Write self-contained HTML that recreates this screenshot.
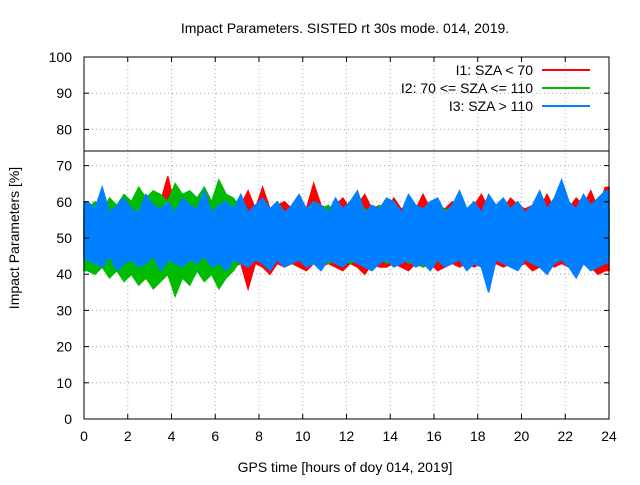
<!DOCTYPE html>
<html><head><meta charset="utf-8"><style>
body{margin:0;background:#fff}
svg text{font-family:"Liberation Sans",sans-serif;font-size:14px;fill:#000}
</style></head><body>
<svg id="c" width="640" height="480">
<text x="345" y="33" text-anchor="middle">Impact Parameters. SISTED rt 30s mode. 014, 2019.</text>
<text x="345" y="472" text-anchor="middle">GPS time [hours of doy 014, 2019]</text>
<text transform="translate(19,238) rotate(-90)" text-anchor="middle">Impact Parameters [%]</text>
<g id="grid"></g><g id="series"></g><g id="ticks"></g>
<rect x="84" y="57" width="525" height="362" fill="none" stroke="#000"/>
<line x1="84" x2="609" y1="151" y2="151" stroke="#000" stroke-width="1"/>
<g id="legend"></g>
</svg>
<script>
const xTicks=[0,2,4,6,8,10,12,14,16,18,20,22,24];
const yTicks=[0,10,20,30,40,50,60,70,80,90,100];
const threshold=74;
const seriesNames=["I1: SZA < 70","I2: 70 <= SZA <= 110","I3: SZA > 110"];
const redHi=[55,56,55,57,56,58,57,58,59,58,60,67,58,59,61,58,59,58,59,62,58,59,63,58,64,58,59,60,58,59,58,65,59,58,59,61,58,59,62,58,59,58,61,58,59,58,62,58,59,58,60,59,58,59,62,58,59,58,61,59,58,59,58,62,58,59,58,61,59,63,58,64];
const redLo=[45,44,45,44,43,44,43,44,42,43,42,43,42,39,43,42,43,42,40,43,42,43,36,43,42,40,43,42,43,42,41,43,42,43,42,41,43,42,40,43,42,42,43,42,41,43,42,43,41,42,43,42,43,42,43,40,43,42,43,42,43,41,42,43,42,43,42,41,43,42,40,41];
const greenHi=[58,60,57,61,59,62,60,64,61,63,62,60,65,62,63,61,64,60,66,62,61,58,57,59,56,58,60,57,58,59,57,56,58,59,57,58,56,60,58,57,59,58,56,57,59,58,57,60,56,58,57,59,58,56,57,58,59,57,56,58,57,59,58,57,56,58,59,57,58,56,57,58];
const greenLo=[41,40,42,39,41,38,40,37,39,36,38,40,34,39,37,41,38,40,36,39,41,44,43,45,44,42,44,45,43,44,42,45,44,43,44,45,43,44,42,44,45,43,44,45,43,44,42,45,44,43,44,45,43,44,42,44,45,43,44,43,45,44,42,44,43,45,44,43,44,42,44,45];
const blueHi=[60,58,64,57,59,61,58,57,62,59,58,60,57,61,59,58,63,57,59,60,58,62,57,59,61,58,60,57,59,62,58,60,59,57,61,58,60,63,57,59,58,61,60,57,62,59,58,60,61,57,59,63,58,60,57,62,59,61,58,60,57,59,63,58,61,66,60,58,62,59,61,63];
const blueLo=[44,43,42,45,41,43,44,42,43,45,41,44,43,42,44,43,45,42,43,41,44,43,42,44,43,41,44,42,43,44,42,43,41,44,43,42,44,43,42,41,43,44,42,43,44,42,43,41,44,42,43,44,41,43,42,35,44,43,42,41,44,43,42,40,43,44,42,39,43,41,42,43];
const colors=["#ff0000","#00bb00","#0080ff"];
const NS="http://www.w3.org/2000/svg";
const X=h=>84+h/24*525, Y=v=>419-v*3.62;
function mk(t,a,p){const e=document.createElementNS(NS,t);for(const k in a)e.setAttribute(k,a[k]);p.appendChild(e);return e;}
const grid=document.getElementById('grid'),ticks=document.getElementById('ticks');
xTicks.forEach(t=>{
 if(t>0&&t<24){const g=mk('line',{x1:X(t),x2:X(t),y1:57,y2:419,stroke:'#aaa','stroke-dasharray':'1,3'},grid);
 }
 const l=mk('text',{x:X(t),y:441,'text-anchor':'middle'},ticks);l.textContent=t;
 
 mk('line',{x1:X(t),x2:X(t),y1:419,y2:414,stroke:'#000'},ticks);mk('line',{x1:X(t),x2:X(t),y1:57,y2:62,stroke:'#000'},ticks);
});
yTicks.forEach(t=>{
 if(t>0&&t<100){const g=mk('line',{x1:84,x2:609,y1:Y(t),y2:Y(t),stroke:'#aaa','stroke-dasharray':'1,3'},grid);
 }
 const l=mk('text',{x:72,y:Y(t)+5,'text-anchor':'end'},ticks);l.textContent=t;
 
 mk('line',{x1:84,x2:89,y1:Y(t),y2:Y(t),stroke:'#000'},ticks);mk('line',{x1:609,x2:604,y1:Y(t),y2:Y(t),stroke:'#000'},ticks);
});
const ser=document.getElementById('series');
[[redHi,redLo],[greenHi,greenLo],[blueHi,blueLo]].forEach((s,k)=>{
 const hi=s[0],lo=s[1],n=hi.length;let pts=[];
 for(let i=0;i<n;i++)pts.push(X((i+0.5)*24/n)+','+Y(hi[i]));
 pts.unshift(X(0)+','+Y(hi[0]));pts.push(X(24)+','+Y(hi[n-1]));
 pts.push(X(24)+','+Y(lo[n-1]));
 for(let i=n-1;i>=0;i--)pts.push(X((i+0.5)*24/n)+','+Y(lo[i]));
 pts.push(X(0)+','+Y(lo[0]));
 const p=mk('polygon',{points:pts.join(' '),fill:colors[k],stroke:colors[k],'stroke-width':1.5,'stroke-linejoin':'miter'},ser);
 
 
});
const leg=document.getElementById('legend');
seriesNames.forEach((nm,k)=>{
 const y=70+k*18;
 const t=mk('text',{x:533,y:y+5,'text-anchor':'end'},leg);t.textContent=nm;
 
 
 const l=mk('line',{x1:542,x2:590,y1:y,y2:y,stroke:colors[k],'stroke-width':2},leg);
 
 
});
</script>
</body></html>
